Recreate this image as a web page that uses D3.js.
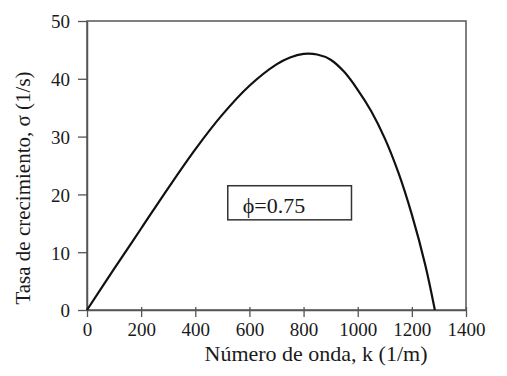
<!DOCTYPE html>
<html>
<head>
<meta charset="utf-8">
<script src="https://cdn.jsdelivr.net/npm/d3@7"></script>
<style>
body{margin:0;background:#fff;}
svg{display:block;}
text{font-family:"Liberation Serif","Times New Roman",serif;fill:#1a1a1a;}
</style>
</head>
<body>
<svg id="chart" width="507" height="376"></svg>
<script>
// Data
const kValues     = [0, 100, 200, 300, 400, 500, 600, 700, 750, 800, 850, 900, 950, 1000, 1050, 1100, 1150, 1200, 1250, 1285];
const sigmaValues = [0, 7.1, 14.1, 21.1, 27.8, 33.8, 38.8, 42.5, 43.7, 44.3, 44.2, 43.3, 41.2, 38.1, 34.4, 29.7, 23.8, 16.5, 7.7, 0];
const xTicks = [0, 200, 400, 600, 800, 1000, 1200, 1400];
const yTicks = [0, 10, 20, 30, 40, 50];
const xLabel = "Número de onda, k (1/m)";
const yLabel = "Tasa de crecimiento, σ (1/s)";
const noteText = "ϕ=0.75";
const noteBoxK = [520, 977];
const noteBoxSigma = [15.6, 21.5];

const margin = {left: 87, right: 41, top: 21, bottom: 66};
const W = 507, H = 376;
const svg = d3.select("#chart");
const iw = W - margin.left - margin.right, ih = H - margin.top - margin.bottom;
const g = svg.append("g").attr("transform", `translate(${margin.left},${margin.top})`);

const x = d3.scaleLinear().domain([0, 1400]).range([0, iw]);
const y = d3.scaleLinear().domain([0, 50]).range([ih, 0]);

// frame
g.append("rect").attr("x", 0).attr("y", 0).attr("width", iw).attr("height", ih)
  .attr("fill", "none").attr("stroke", "#555").attr("stroke-width", 1.5);

const xAxis = g.append("g").attr("transform", `translate(0,${ih})`)
  .call(d3.axisBottom(x).tickValues(xTicks).tickFormat(d3.format("d")).tickSizeInner(7).tickSizeOuter(0).tickPadding(6));
xAxis.selectAll(".tick line").attr("y1", -3);
const yAxis = g.append("g")
  .call(d3.axisLeft(y).tickValues(yTicks).tickFormat(d3.format("d")).tickSizeInner(9).tickSizeOuter(0).tickPadding(8));
[xAxis, yAxis].forEach(a => {
  a.select(".domain").attr("stroke", "#555").attr("stroke-width", 1.5);
  a.selectAll(".tick line").attr("stroke", "#555").attr("stroke-width", 1.3);
  a.selectAll(".tick text").attr("font-size", 19).attr("font-family", "Liberation Serif").attr("fill", "#1a1a1a");
});
yAxis.selectAll(".tick text").attr("dy", "0.36em");

// curve
const data = kValues.map((k, i) => ({k, s: sigmaValues[i]}));
g.append("path").datum(data)
  .attr("fill", "none").attr("stroke", "#111").attr("stroke-width", 2.2)
  .attr("d", d3.line().x(d => x(d.k)).y(d => y(d.s)).curve(d3.curveCatmullRom.alpha(0.5)));

// annotation box
g.append("rect")
  .attr("x", x(noteBoxK[0])).attr("y", y(noteBoxSigma[1]))
  .attr("width", x(noteBoxK[1]) - x(noteBoxK[0])).attr("height", y(noteBoxSigma[0]) - y(noteBoxSigma[1]))
  .attr("fill", "#fff").attr("stroke", "#333").attr("stroke-width", 1.5);
g.append("text").attr("x", x(noteBoxK[0]) + 15).attr("y", y(noteBoxSigma[0]) - 6.5)
  .attr("font-size", 22).text(noteText);

// axis labels
svg.append("text").attr("x", 316).attr("y", 361).attr("text-anchor", "middle")
  .attr("font-size", 22).text(xLabel);
svg.append("text").attr("transform", `translate(30,188) rotate(-90)`).attr("text-anchor", "middle")
  .attr("font-size", 21).text(yLabel);
</script>
</body>
</html>
